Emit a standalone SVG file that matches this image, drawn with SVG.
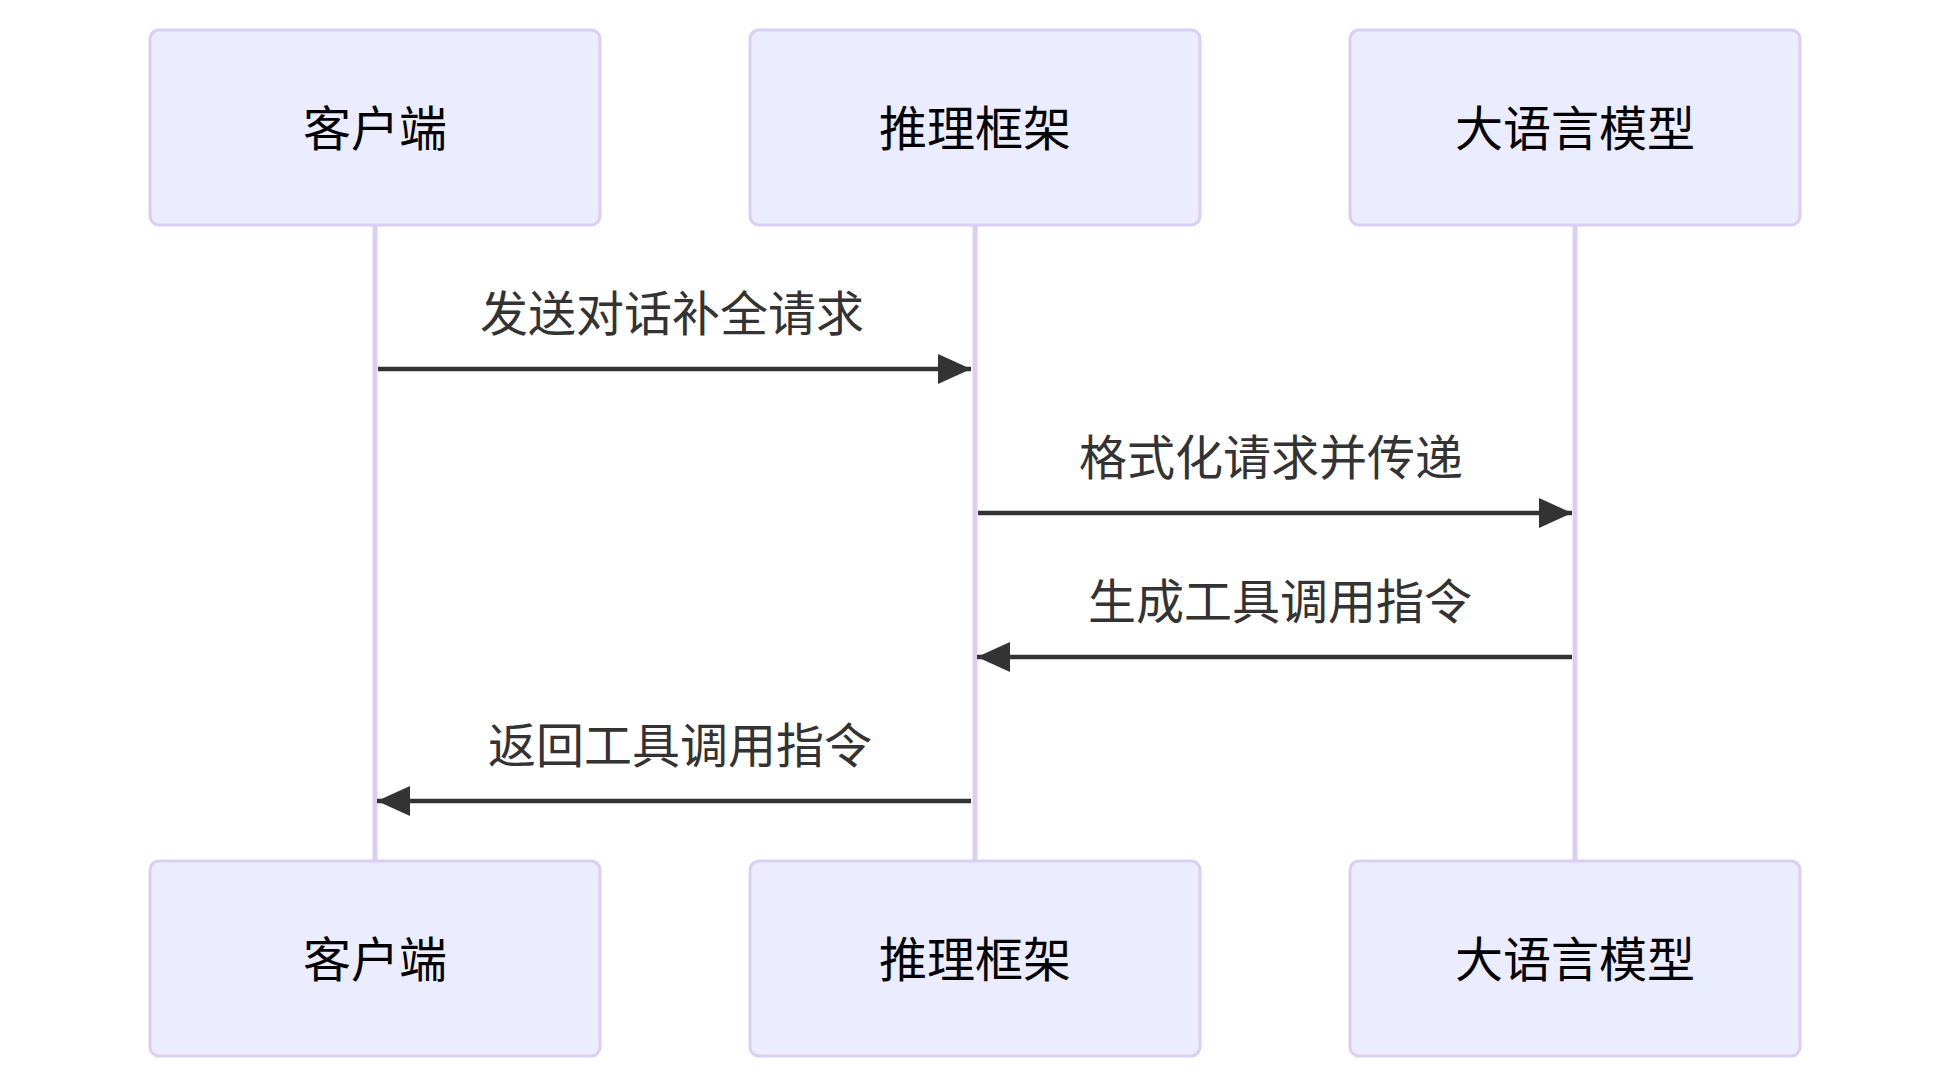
<svg xmlns="http://www.w3.org/2000/svg" width="1950" height="1089" viewBox="0 0 1950 1089">
<style>
.actor{fill:#ECECFF;stroke:#DACEF3;stroke-width:3}
.actor-text{font-family:"Noto Sans CJK SC","Noto Sans",sans-serif;font-size:48px;fill:#000;text-anchor:middle;dominant-baseline:central}
.lifeline{stroke:#DACEF3;stroke-width:5}
.msg{stroke:#333;stroke-width:4.5;fill:none;marker-end:url(#arrow)}
.msg-text{font-family:"Noto Sans CJK SC","Noto Sans",sans-serif;font-size:48px;fill:#333;text-anchor:middle;dominant-baseline:central}
</style>
<defs>
<marker id="arrow" markerUnits="userSpaceOnUse" markerWidth="36" markerHeight="32" refX="33" refY="15" orient="auto" viewBox="0 0 36 32">
<path d="M0,0 L33,15 L0,30 z" fill="#333"/>
</marker>
</defs>
<rect width="1950" height="1089" fill="#fff"/>
<g id="lifelines">
<line class="lifeline" x1="375" y1="225" x2="375" y2="861"/>
<line class="lifeline" x1="975" y1="225" x2="975" y2="861"/>
<line class="lifeline" x1="1575" y1="225" x2="1575" y2="861"/>
</g>
<g id="actor-client-top"><rect class="actor" x="150" y="30" width="450" height="195" rx="9"/><text class="actor-text" x="375" y="125">客户端</text></g>
<g id="actor-framework-top"><rect class="actor" x="750" y="30" width="450" height="195" rx="9"/><text class="actor-text" x="975" y="125">推理框架</text></g>
<g id="actor-llm-top"><rect class="actor" x="1350" y="30" width="450" height="195" rx="9"/><text class="actor-text" x="1575" y="125">大语言模型</text></g>
<g id="actor-client-bottom"><rect class="actor" x="150" y="861" width="450" height="195" rx="9"/><text class="actor-text" x="375" y="956">客户端</text></g>
<g id="actor-framework-bottom"><rect class="actor" x="750" y="861" width="450" height="195" rx="9"/><text class="actor-text" x="975" y="956">推理框架</text></g>
<g id="actor-llm-bottom"><rect class="actor" x="1350" y="861" width="450" height="195" rx="9"/><text class="actor-text" x="1575" y="956">大语言模型</text></g>
<g id="connectors">
<line class="msg" x1="378" y1="369" x2="971" y2="369"/>
<text class="msg-text" x="672" y="310">发送对话补全请求</text>
<line class="msg" x1="978" y1="513" x2="1572" y2="513"/>
<text class="msg-text" x="1271" y="454">格式化请求并传递</text>
<line class="msg" x1="1572" y1="657" x2="977" y2="657"/>
<text class="msg-text" x="1280" y="598">生成工具调用指令</text>
<line class="msg" x1="971" y1="801" x2="377" y2="801"/>
<text class="msg-text" x="680" y="742">返回工具调用指令</text>
</g>
</svg>
